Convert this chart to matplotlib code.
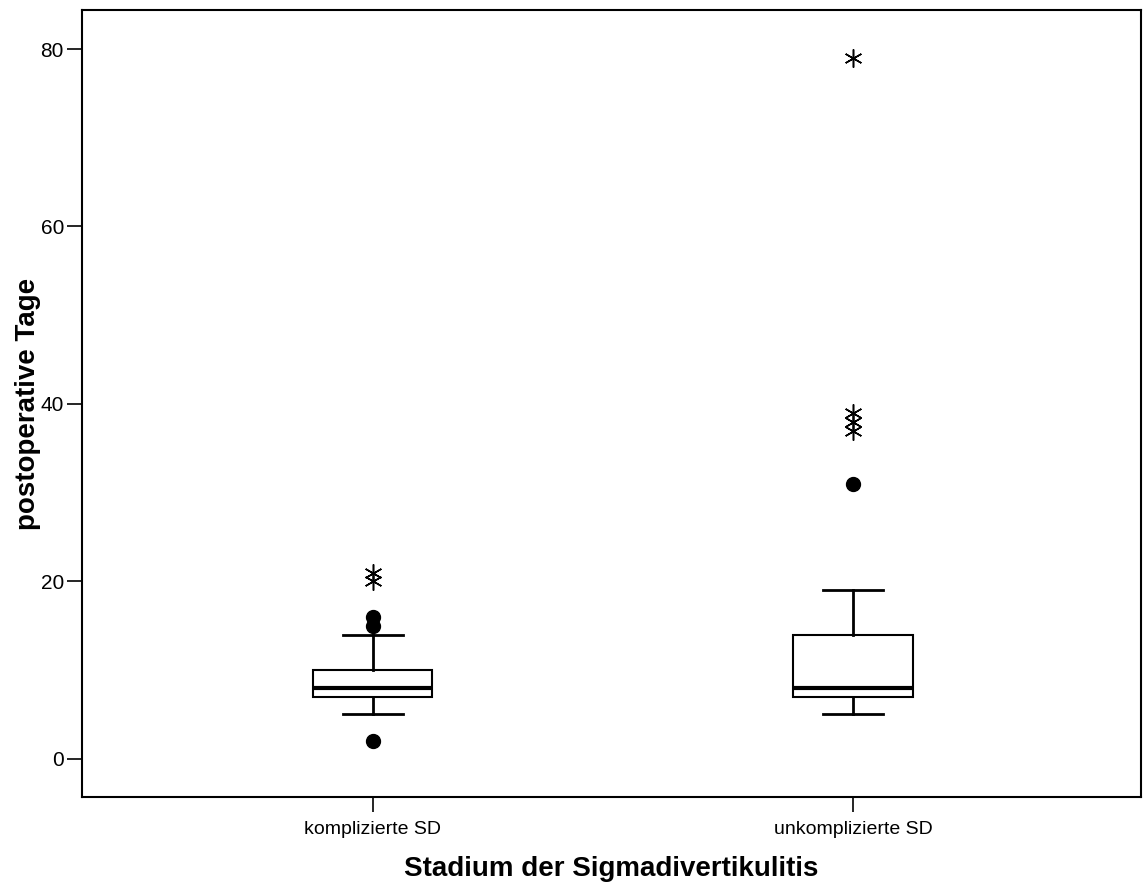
import numpy as np
import matplotlib.pyplot as plt
plt.rcParams['font.family'] = ['Liberation Sans', 'DejaVu Sans']

# group labels
categories = ['komplizierte SD', 'unkomplizierte SD']
# box statistics (lower whisker, Q1, median, Q3, upper whisker)
whislo = [5, 5]
q1 = [7, 7]
med = [8, 8]
q3 = [10, 14]
whishi = [14, 19]
# outliers (circles) and extreme values (stars)
outliers = [[16, 15, 2], [31]]
extremes = [[21, 20], [79, 39, 38, 37]]

yticks = [0, 20, 40, 60, 80]


def main():
    fig = plt.figure(figsize=(11.44, 8.90), dpi=100)
    ax = fig.add_axes([0.0717, 0.1045, 0.9257, 0.8843])

    stats = []
    for i in range(len(categories)):
        stats.append({'whislo': whislo[i], 'q1': q1[i], 'med': med[i],
                      'q3': q3[i], 'whishi': whishi[i], 'fliers': []})
    pos = np.arange(1, len(categories) + 1)
    ax.bxp(stats, positions=pos, widths=0.248, showfliers=False,
           patch_artist=True,
           boxprops=dict(facecolor='white', edgecolor='black', linewidth=1.5),
           medianprops=dict(color='black', linewidth=3),
           whiskerprops=dict(color='black', linewidth=2),
           capprops=dict(color='black', linewidth=2),
           capwidths=0.125)

    for i, p in enumerate(pos):
        ax.plot([p] * len(outliers[i]), outliers[i], 'o', color='black',
                markersize=10, linestyle='none')
        ax.plot([p] * len(extremes[i]), extremes[i], linestyle='none',
                marker=(6, 2, 0), color='black', markersize=13,
                markeredgewidth=1.1)

    ax.set_xlim(0.394, 2.6)
    ax.set_ylim(-4.3, 84.4)
    ax.set_xticks(pos)
    ax.set_xticklabels(categories, fontsize=14)
    ax.set_yticks(yticks)
    ax.set_yticklabels([str(t) for t in yticks], fontsize=15)
    ax.tick_params(axis='both', direction='out', length=11, width=1.2,
                   color='black', pad=2)
    ax.tick_params(axis='x', pad=6)
    for s in ax.spines.values():
        s.set_linewidth(1.5)

    ax.set_ylabel('postoperative Tage', fontsize=20, fontweight='bold')
    ax.yaxis.set_label_coords(-0.039, 0.5)
    ax.set_xlabel('Stadium der Sigmadivertikulitis', fontsize=20,
                  fontweight='bold', labelpad=13)

    plt.savefig('out.png', dpi=100)


if __name__ == '__main__':
    main()
